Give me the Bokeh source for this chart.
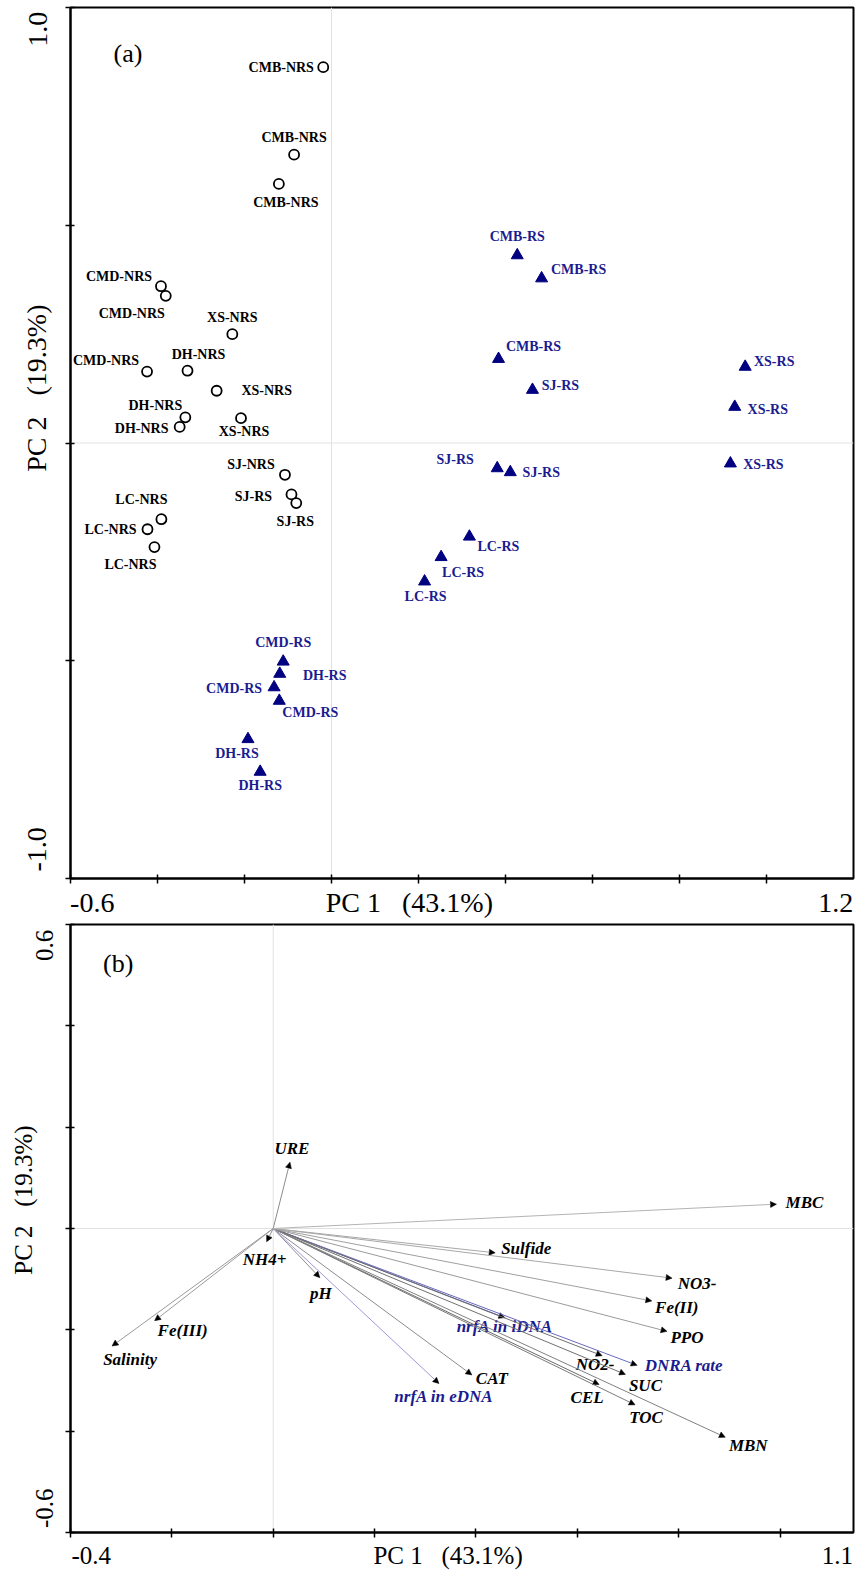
from bokeh.plotting import figure
from bokeh.models import (ColumnDataSource, Range1d, LinearAxis, FixedTicker,
                          CustomJSTickFormatter, Span, Label, Arrow, NormalHead)
from bokeh.layouts import column
from bokeh.core.properties import value
from bokeh.embed import file_html
from bokeh.resources import INLINE

# ---------------- Panel (a): sample scores ----------------
nrs_names = ["CMB-NRS", "CMB-NRS", "CMB-NRS", "CMD-NRS", "CMD-NRS", "XS-NRS",
             "CMD-NRS", "DH-NRS", "XS-NRS", "DH-NRS", "DH-NRS", "XS-NRS",
             "SJ-NRS", "SJ-RS", "SJ-RS", "LC-NRS", "LC-NRS", "LC-NRS"]
nrs_pc1 = [-0.019, -0.086, -0.121, -0.392, -0.381, -0.228, -0.424, -0.331, -0.264,
           -0.336, -0.349, -0.208, -0.107, -0.092, -0.081, -0.391, -0.423, -0.407]
nrs_pc2 = [0.863, 0.662, 0.595, 0.360, 0.338, 0.250, 0.164, 0.166, 0.120,
           0.059, 0.037, 0.057, -0.073, -0.118, -0.138, -0.175, -0.198, -0.239]

rs_names = ["CMB-RS", "CMB-RS", "CMB-RS", "SJ-RS", "XS-RS", "XS-RS", "SJ-RS", "SJ-RS",
            "XS-RS", "LC-RS", "LC-RS", "LC-RS", "CMD-RS", "DH-RS", "CMD-RS", "CMD-RS",
            "DH-RS", "DH-RS"]
rs_pc1 = [0.427, 0.483, 0.384, 0.462, 0.951, 0.927, 0.381, 0.411, 0.917, 0.317, 0.252,
          0.214, -0.111, -0.119, -0.132, -0.120, -0.192, -0.164]
rs_pc2 = [0.431, 0.378, 0.193, 0.122, 0.175, 0.083, -0.058, -0.067, -0.047, -0.215,
          -0.262, -0.318, -0.502, -0.530, -0.561, -0.592, -0.680, -0.755]

# label offsets in screen px (dx right, dy down)
nrs_dx = [-42, 0, 7, -42, -34, 0, -41, 11, 50, -30, -38, 3, -34, -38, -1, -20, -37, -24]
nrs_dy = [0, -17, 19, -10, 18, -17, -11, -16, 0, -12, 2, 13, -10, 2, 18, -20, 0, 17]
rs_dx = [0, 37, 35, 28, 29, 33, -42, 31, 33, 29, 22, 1, 0, 45, -40, 31, -11, 0]
rs_dy = [-19, -9, -12, -4, -5, 3, -9, 0, 1, 10, 15, 15, -19, 2, 1, 12, 14, 14]

# ---------------- Panel (b): variable loadings ----------------
var_names = ["URE", "MBC", "NH4+", "pH", "Fe(III)", "Salinity", "nrfA in eDNA", "CAT",
             "Sulfide", "NO3-", "Fe(II)", "PPO", "nrfA in iDNA", "DNRA rate", "NO2-",
             "SUC", "CEL", "TOC", "MBN"]
var_pc1 = [0.033, 0.993, -0.013, 0.092, -0.234, -0.318, 0.327, 0.392, 0.438, 0.787,
           0.747, 0.777, 0.457, 0.718, 0.649, 0.695, 0.643, 0.714, 0.892]
var_pc2 = [0.131, 0.048, -0.026, -0.097, -0.182, -0.232, -0.306, -0.289, -0.048, -0.098,
           -0.143, -0.203, -0.176, -0.270, -0.251, -0.288, -0.308, -0.348, -0.412]
var_is_dnra = [False, False, False, False, False, False, True, False, False, False,
               False, False, True, True, False, False, False, False, False]

var_dx = [2, 28, -2, 1, 28, 18, 5, 20, 31, 25, 25, 20, 0, 47, -7, 20, -12, 11, 23]
var_dy = [-14, -2, 18, 16, 10, 13, 13, 4, -4, 5, 7, 6, 9, 0, 9, 11, 13, 13, 8]
var_line_color = ["#8c8c8c", "#b4b4b4", "#8c8c8c", "#8c8c8c", "#9a9a9a", "#9a9a9a",
                  "#9a9ad8", "#8c8c8c", "#a8a8a8", "#a8a8a8", "#a0a0a0", "#9a9a9a",
                  "#5a5ab4", "#6a6abf", "#707070", "#707070", "#6a6a6a", "#7a7a7a", "#808080"]

SERIF = "Liberation Serif"
NAVY = "#000080"
BLUE_TEXT = "#1b1b90"
NB = "\u00a0"


def make_fig(xr, yr, width, height, bl, br, bt, bb):
    p = figure(width=width, height=height, x_range=Range1d(*xr), y_range=Range1d(*yr),
               output_backend="svg", toolbar_location=None,
               x_axis_location=None, y_axis_location=None,
               min_border_left=bl, min_border_right=br, min_border_top=bt, min_border_bottom=bb)
    p.grid.visible = False
    p.outline_line_color = "black"
    p.outline_line_width = 2
    p.background_fill_color = "white"
    p.border_fill_color = "white"
    p.add_layout(Span(location=0, dimension="height", line_color="#e2e2e2", line_width=1, level="underlay"))
    p.add_layout(Span(location=0, dimension="width", line_color="#e2e2e2", line_width=1, level="underlay"))
    return p


def tick_axis(ticks):
    return LinearAxis(ticker=FixedTicker(ticks=ticks, minor_ticks=[]),
                      formatter=CustomJSTickFormatter(code="return '';"),
                      axis_line_color="black", axis_line_width=2,
                      major_tick_line_color="black", major_tick_line_width=1.5,
                      major_tick_in=4, major_tick_out=5, minor_tick_line_color=None,
                      major_label_standoff=0, major_label_text_font_size="1px")


def label_axis(positions, labels, size, standoff, orientation="horizontal"):
    code = ("let b = 0; for (let i = 0; i < pos.length; i++) {"
            " if (Math.abs(pos[i] - tick) < Math.abs(pos[b] - tick)) b = i; }"
            " return labels[b];")
    return LinearAxis(ticker=FixedTicker(ticks=positions, minor_ticks=[]),
                      formatter=CustomJSTickFormatter(args=dict(pos=positions, labels=labels), code=code),
                      axis_line_color=None, major_tick_line_color=None, minor_tick_line_color=None,
                      major_tick_in=0, major_tick_out=0, major_label_standoff=standoff,
                      major_label_text_font=SERIF, major_label_text_font_size=size,
                      major_label_text_color="black", major_label_orientation=orientation)


PC1_LABEL = "PC 1" + NB * 3 + "(43.1%)"
PC2_LABEL = "PC 2" + NB * 3 + "(19.3%)"

# ---------------- build panel (a) ----------------
pa = make_fig((-0.6, 1.2), (-1.0, 1.0), 858, 920, 68, 5, 7, 41)
pa.add_layout(tick_axis([-0.6 + 0.2 * i for i in range(10)]), "below")
pa.add_layout(label_axis([-0.55, 0.179, 1.159], ["-0.6", PC1_LABEL, "1.2"], "28px", 3), "below")
pa.add_layout(tick_axis([-1.0, -0.5, 0.0, 0.5, 1.0]), "left")
pa.add_layout(label_axis([-0.933, 0.126, 0.95], ["-1.0", PC2_LABEL, "1.0"], "28px", 13, "parallel"), "left")

src_nrs = ColumnDataSource(dict(x=nrs_pc1, y=nrs_pc2, name=nrs_names, dx=nrs_dx, dy=nrs_dy))
src_rs = ColumnDataSource(dict(x=rs_pc1, y=rs_pc2, name=rs_names, dx=rs_dx, dy=rs_dy))

pa.scatter("x", "y", source=src_nrs, marker="circle", size=10, fill_color="white",
           line_color="black", line_width=1.8)
pa.scatter("x", "y", source=src_rs, marker="triangle", size=12, fill_color=NAVY,
           line_color=NAVY, line_width=1)
pa.text("x", "y", text="name", x_offset="dx", y_offset="dy", source=src_nrs,
        text_align="center", text_baseline="middle", text_font=value(SERIF),
        text_font_style="bold", text_font_size=value("14px"), text_color="black")
pa.text("x", "y", text="name", x_offset="dx", y_offset="dy", source=src_rs,
        text_align="center", text_baseline="middle", text_font=value(SERIF),
        text_font_style="bold", text_font_size=value("14px"), text_color=BLUE_TEXT)
pa.add_layout(Label(x=-0.468, y=0.894, text="(a)", text_font=SERIF, text_font_size="26px",
                    text_align="center", text_baseline="middle", text_color="black"))

# ---------------- build panel (b) ----------------
pb = make_fig((-0.4, 1.145), (-0.6, 0.6), 858, 652, 70, 3, 4, 40)
pb.add_layout(tick_axis([-0.4 + 0.2 * i for i in range(8)]), "below")
pb.add_layout(label_axis([-0.359, 0.345, 1.113], ["-0.4", PC1_LABEL, "1.1"], "25px", 4), "below")
pb.add_layout(tick_axis([-0.6, -0.4, -0.2, 0.0, 0.2, 0.4, 0.6]), "left")
pb.add_layout(label_axis([-0.552, 0.559], ["-0.6", "0.6"], "25px", 12, "parallel"), "left")
pb.add_layout(label_axis([0.056], [PC2_LABEL], "25px", -4, "parallel"), "left")

for col in sorted(set(var_line_color)):
    idx = [i for i, c in enumerate(var_line_color) if c == col]
    s = ColumnDataSource(dict(x0=[0.0] * len(idx), y0=[0.0] * len(idx),
                              x1=[var_pc1[i] for i in idx], y1=[var_pc2[i] for i in idx]))
    pb.add_layout(Arrow(source=s, x_start="x0", y_start="y0", x_end="x1", y_end="y1",
                        line_color=col, line_width=1,
                        end=NormalHead(size=6, fill_color="black", line_color="black", line_width=0.5)))

src_var = ColumnDataSource(dict(
    x=var_pc1, y=var_pc2, name=var_names, dx=var_dx, dy=var_dy,
    color=[BLUE_TEXT if d else "black" for d in var_is_dnra]))
pb.text("x", "y", text="name", x_offset="dx", y_offset="dy", source=src_var,
        text_align="center", text_baseline="middle", text_font=value(SERIF),
        text_font_style="bold italic", text_font_size=value("17px"), text_color="color")
pb.add_layout(Label(x=-0.306, y=0.523, text="(b)", text_font=SERIF, text_font_size="26px",
                    text_align="center", text_baseline="middle", text_color="black"))

layout = column(pa, pb)
open("out.html", "w").write(file_html(layout, INLINE))
